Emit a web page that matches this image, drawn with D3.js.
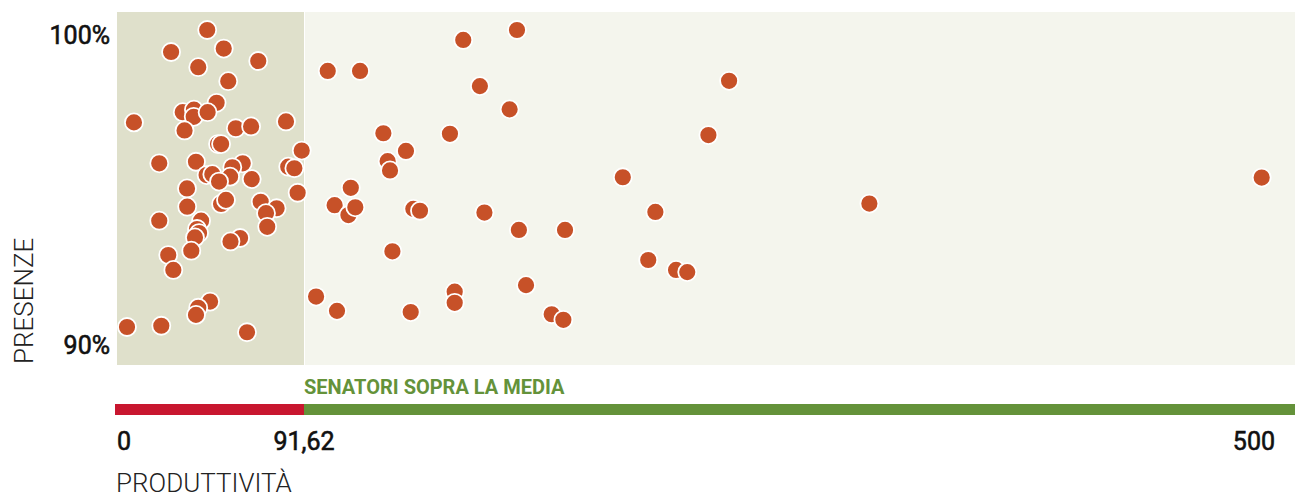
<!DOCTYPE html>
<html>
<head>
<meta charset="utf-8">
<script src="https://cdn.jsdelivr.net/npm/d3@7"></script>
<style>
  body { margin: 0; background: #fff; }
  svg { display: block; font-family: Roboto, "DejaVu Sans", sans-serif; }
  .tickLabel { font-size: 25px; font-weight: 400; fill: #111; stroke: #111; stroke-width: 0.6px; }
  .axisTitle { font-size: 26px; font-weight: 300; fill: #222; }
  .aboveLabel { font-size: 20px; font-weight: 700; fill: #64923a; }
</style>
</head>
<body>
<div id="chart"></div>
<script>
// productivity (x) and attendance % (y) of each senator
const produttivita = [
  44.2, 26.5, 52.3, 69.2, 39.8, 54.5, 48.8, 32.2, 37.7, 37.6,
  44.4, 8.3, 82.8, 58.2, 65.7, 33.1, 49.5, 51.0, 90.5, 20.7,
  38.7, 61.6, 56.5, 55.4, 43.9, 46.7, 50.0, 66.0, 83.9, 86.9,
  88.5, 34.3, 34.4, 20.7, 51.0, 53.4, 70.4, 78.2, 73.0, 73.6,
  41.2, 39.2, 40.2, 38.2, 60.3, 55.6, 36.4, 25.1, 27.6, 45.6,
  39.8, 38.7, 4.9, 21.7, 63.7,
  101.6, 115.2, 158.6, 181.2, 165.6, 178.1, 125.0, 153.0, 134.5, 126.8,
  127.8, 111.3, 104.5, 110.3, 113.2, 137.6, 140.4, 167.5, 182.0, 201.4,
  128.8, 96.7, 105.5, 136.5, 155.0, 155.0, 185.0, 195.8, 200.7, 270.4,
  261.7, 225.7, 239.4, 329.4, 236.4, 248.1, 252.8, 494.4
];

const presenze = [
  100.0, 99.29, 99.40, 99.0, 98.80, 98.35, 97.65, 97.35, 97.43, 97.20,
  97.35, 97.02, 97.05, 96.83, 96.89, 96.76, 96.32, 96.32, 96.11, 95.70,
  95.75, 95.70, 95.57, 95.27, 95.32, 95.35, 95.11, 95.19, 95.59, 95.54,
  94.75, 94.89, 94.30, 93.85, 94.39, 94.52, 94.46, 94.25, 94.09, 93.65,
  93.85, 93.58, 93.45, 93.31, 93.29, 93.18, 92.88, 92.74, 92.26, 91.24,
  91.04, 90.81, 90.42, 90.46, 90.25,
  98.68, 98.68, 99.68, 100.0, 98.19, 97.44, 96.67, 96.65, 96.10, 95.77,
  95.47, 94.91, 94.35, 94.03, 94.28, 94.23, 94.17, 94.11, 93.55, 93.55,
  92.86, 91.40, 90.94, 90.90, 91.56, 91.20, 91.77, 90.83, 90.65, 98.36,
  96.61, 95.25, 94.13, 94.40, 92.58, 92.26, 92.19, 95.24
];

const mediaProduttivita = 91.62;
const xTicks = [0, 91.62, 500];
const xTickLabels = ["0", "91,62", "500"];
const yTicks = [90, 100];
const yTickLabels = ["90%", "100%"];

// setup
const width = 1295;
const height = 498;
const plot = {left: 117, right: 1295, top: 12, bottom: 365};

const svg = d3.select("#chart").append("svg")
    .attr("width", width)
    .attr("height", height);

// scales: the axis is stretched below the average
const x = d3.scaleLinear()
    .domain([0, mediaProduttivita, 500])
    .range([plot.left, 304, 1275]);

const y = d3.scaleLinear()
    .domain([90, 100])
    .range([340, 30]);

// background bands
svg.append("rect")
    .attr("x", plot.left)
    .attr("y", plot.top)
    .attr("width", x(mediaProduttivita) - plot.left)
    .attr("height", plot.bottom - plot.top)
    .attr("fill", "#dfe0cb");

svg.append("rect")
    .attr("x", x(mediaProduttivita) + 1)
    .attr("y", plot.top)
    .attr("width", plot.right - x(mediaProduttivita) - 1)
    .attr("height", plot.bottom - plot.top)
    .attr("fill", "#f4f5ed");

// dots
const data = produttivita.map((p, i) => ({x: p, y: presenze[i]}));

svg.selectAll("circle.senatore")
  .data(data)
    .enter()
  .append("circle")
    .attr("class", "senatore")
    .attr("cx", d => x(d.x))
    .attr("cy", d => y(d.y))
    .attr("r", 9)
    .attr("fill", "#c75128")
    .attr("stroke", "#fff")
    .attr("stroke-width", 1.8);

// y tick labels
svg.selectAll(".yLabel")
  .data(yTicks)
    .enter()
  .append("text")
    .attr("class", "tickLabel")
    .attr("x", 110)
    .attr("y", d => y(d) + 5)
    .attr("dy", "0.36em")
    .attr("text-anchor", "end")
    .text((d, i) => yTickLabels[i]);

svg.append("text")
    .attr("class", "axisTitle")
    .attr("transform", `translate(33, ${plot.bottom - 1}) rotate(-90)`)
    .attr("text-anchor", "start")
    .text("PRESENZE");

// red / green bar
svg.append("rect")
    .attr("x", plot.left - 2)
    .attr("y", 404)
    .attr("width", x(mediaProduttivita) - plot.left + 2)
    .attr("height", 11)
    .attr("fill", "#c8162f");

svg.append("rect")
    .attr("x", x(mediaProduttivita))
    .attr("y", 404)
    .attr("width", plot.right - x(mediaProduttivita))
    .attr("height", 11)
    .attr("fill", "#64923a");

svg.append("text")
    .attr("class", "aboveLabel")
    .attr("x", x(mediaProduttivita))
    .attr("y", 394)
    .text("SENATORI SOPRA LA MEDIA");

// x tick labels
const anchors = ["start", "middle", "end"];
svg.selectAll(".xLabel")
  .data(xTicks)
    .enter()
  .append("text")
    .attr("class", "tickLabel")
    .attr("x", d => x(d))
    .attr("y", 450)
    .attr("text-anchor", (d, i) => anchors[i])
    .text((d, i) => xTickLabels[i]);

svg.append("text")
    .attr("class", "axisTitle")
    .attr("x", plot.left - 1)
    .attr("y", 492)
    .text("PRODUTTIVITÀ");
</script>
</body>
</html>
